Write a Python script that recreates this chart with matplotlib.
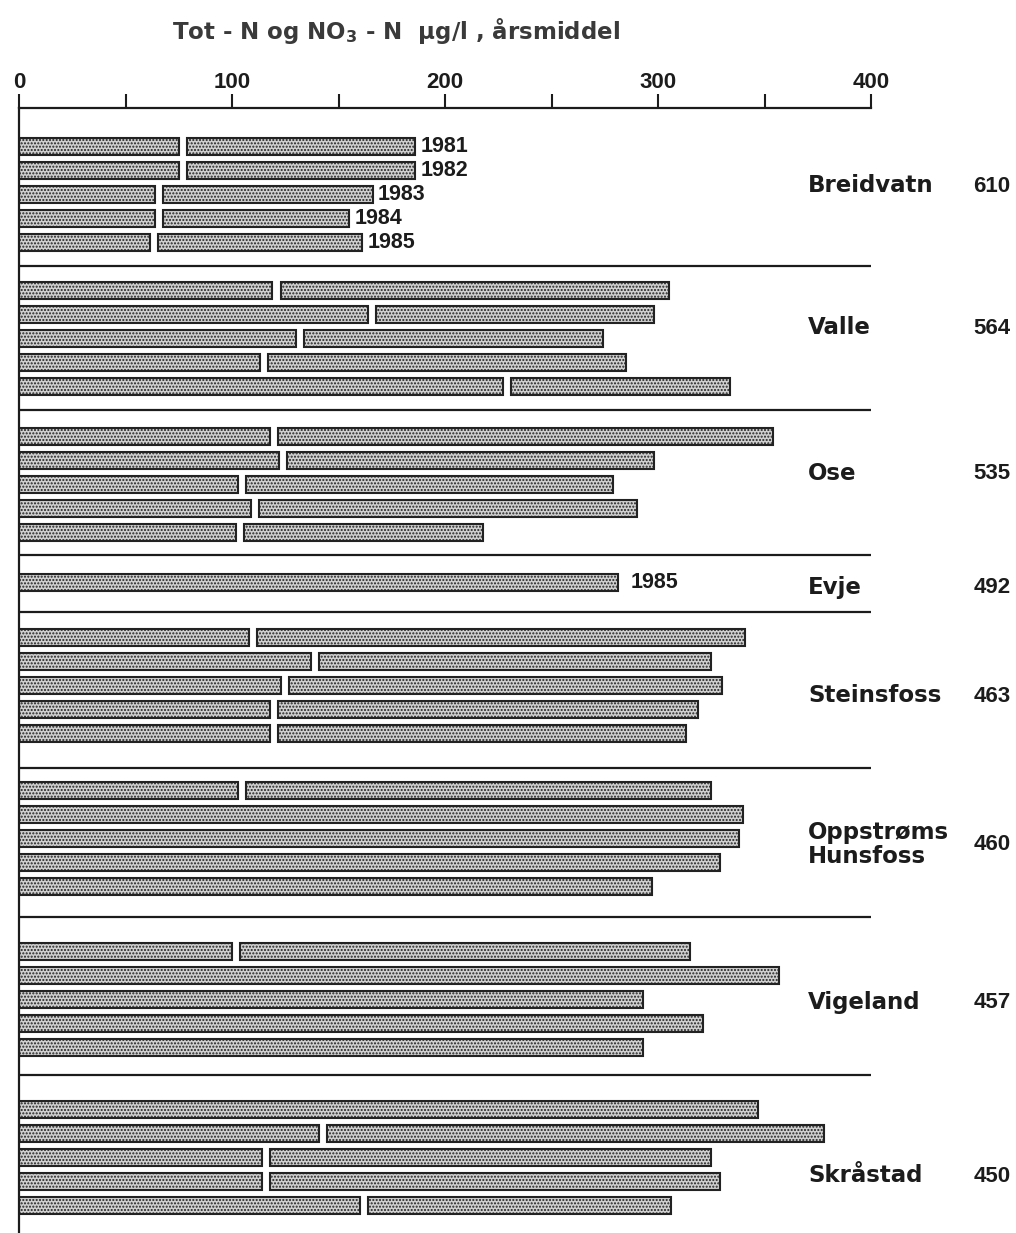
"""Tot-N og NO3-N årsmiddel langs Otra — delte stolper (NO3-N | Tot-N)."""

import matplotlib

matplotlib.use("Agg")
import matplotlib.pyplot as plt
import numpy as np

NAN = np.nan

# ---------------------------------------------------------------------------
# Data (µg/l, årsmiddel)
# ---------------------------------------------------------------------------

STATIONS = ["Breidvatn", "Valle", "Ose", "Evje", "Steinsfoss",
            "Oppstrøms\nHunsfoss", "Vigeland", "Skråstad"]
ELEVATION = ["610", "564", "535", "492", "463", "460", "457", "450"]
YEARS_ALL = ["1981", "1982", "1983", "1984", "1985"]
YEARS_EVJE = ["1985"]

TOT_BREIDVATN = [186, 186, 166, 155, 161]
NO3_BREIDVATN = [75, 75, 64, 64, 61.5]
TOT_VALLE = [305, 298, 274, 285, 334]
NO3_VALLE = [119, 164, 130, 113, 227]
TOT_OSE = [354, 298, 279, 290, 218]
NO3_OSE = [118, 122, 103, 109, 102]
TOT_EVJE = [281]
NO3_EVJE = [NAN]
TOT_STEINSFOSS = [341, 325, 330, 319, 313]
NO3_STEINSFOSS = [108, 137, 123, 118, 118]
TOT_HUNSFOSS = [325, 340, 338, 329, 297]
NO3_HUNSFOSS = [103, NAN, NAN, NAN, NAN]
TOT_VIGELAND = [315, 357, 293, 321, 293]
NO3_VIGELAND = [100, NAN, NAN, NAN, NAN]
TOT_SKRASTAD = [347, 378, 325, 329, 306]
NO3_SKRASTAD = [NAN, 141, 114, 114, 160]

TOT = [TOT_BREIDVATN, TOT_VALLE, TOT_OSE, TOT_EVJE,
       TOT_STEINSFOSS, TOT_HUNSFOSS, TOT_VIGELAND, TOT_SKRASTAD]
NO3 = [NO3_BREIDVATN, NO3_VALLE, NO3_OSE, NO3_EVJE,
       NO3_STEINSFOSS, NO3_HUNSFOSS, NO3_VIGELAND, NO3_SKRASTAD]
# which stations get year labels next to the bars
YEAR_LABELS = {0: YEARS_ALL, 3: YEARS_EVJE}

# ---------------------------------------------------------------------------
# Layout (vertical units ~ pixels)
# ---------------------------------------------------------------------------

GROUP_H = [158, 144, 145, 57, 156, 149, 158, 158]  # band heights between rules
BAR_SHIFT = [7, 0, 2, -1, -5, -4, 3, 3]            # bar block offset in band
NAME_SHIFT = [-1, -10, -9, 4, 6, 2, 7, 22]          # label offset from band centre
PITCH = 24.0
BAR_H = 17.0
GAP = 3.8  # visual gap between NO3 segment and the rest
INK = "#1c1c1c"

plt.rcParams["hatch.linewidth"] = 1.0

fig = plt.figure(figsize=(10.16, 12.33), dpi=100)
total_h = float(sum(GROUP_H))
ax = fig.add_axes([19 / 1016, 0.0, 852 / 1016, total_h / 1233])

bar_kw = dict(height=BAR_H, facecolor="#d0d0d0", edgecolor="#222222",
              hatch=".....", linewidth=1.5)

top = 0.0
separators = []
centers = []
for gi, (tots, no3s) in enumerate(zip(TOT, NO3)):
    center = top + GROUP_H[gi] / 2
    n = len(tots)
    ys = [center + BAR_SHIFT[gi] + (i - (n - 1) / 2) * PITCH for i in range(n)]
    for yi, tot, no3 in zip(ys, tots, no3s):
        if np.isnan(no3):
            ax.barh(yi, tot, left=0, **bar_kw)
        else:
            ax.barh(yi, no3, left=0, **bar_kw)
            ax.barh(yi, tot - no3 - GAP, left=no3 + GAP, **bar_kw)
    if gi in YEAR_LABELS:
        off = 2.5 if gi == 0 else 6.0
        for yi, tot, yr in zip(ys, tots, YEAR_LABELS[gi]):
            ax.text(tot + off, yi, yr, va="center", ha="left", fontsize=15.5,
                    family="Liberation Sans", fontweight="bold", color=INK)
    centers.append(center + NAME_SHIFT[gi])
    top += GROUP_H[gi]
    separators.append(top)

for sep in separators[:-1]:
    ax.hlines(sep, 0, 400, color=INK, linewidth=1.6)

for name, elev, cy in zip(STATIONS, ELEVATION, centers):
    ax.text(370.5, cy, name, va="center", ha="left", fontsize=16.5,
            family="DejaVu Sans", fontweight="bold", color=INK,
            linespacing=1.05, clip_on=False)
    ax.text(465.5, cy, elev, va="center",
            ha="right", fontsize=16, family="Liberation Sans",
            fontweight="bold", color=INK, clip_on=False)

ax.set_xlim(0, 400)
ax.set_ylim(total_h, 0)

ax.xaxis.tick_top()
ax.set_xticks([0, 100, 200, 300, 400])
ax.set_xticks([50, 150, 250, 350], minor=True)
ax.tick_params(axis="x", which="both", direction="out", length=10, width=1.5,
               colors=INK, pad=1, labelsize=16)
for lbl in ax.get_xticklabels():
    lbl.set_fontfamily("Liberation Sans")
    lbl.set_fontweight("bold")
ax.set_yticks([])

for side in ("right", "bottom"):
    ax.spines[side].set_visible(False)
ax.spines["top"].set_linewidth(1.6)
ax.spines["left"].set_linewidth(1.6)
ax.spines["top"].set_color(INK)
ax.spines["left"].set_color(INK)
ax.patch.set_alpha(0)

fig.text(396 / 1016, 1 - 31 / 1233,
         r"Tot - N og NO$_\mathbf{3}$ - N  µg/l , årsmiddel",
         ha="center", va="center", fontsize=16.5, family="DejaVu Sans",
         fontweight="bold", color="#3a3a3a")

fig.savefig("out.png", dpi=100)
plt.close(fig)
